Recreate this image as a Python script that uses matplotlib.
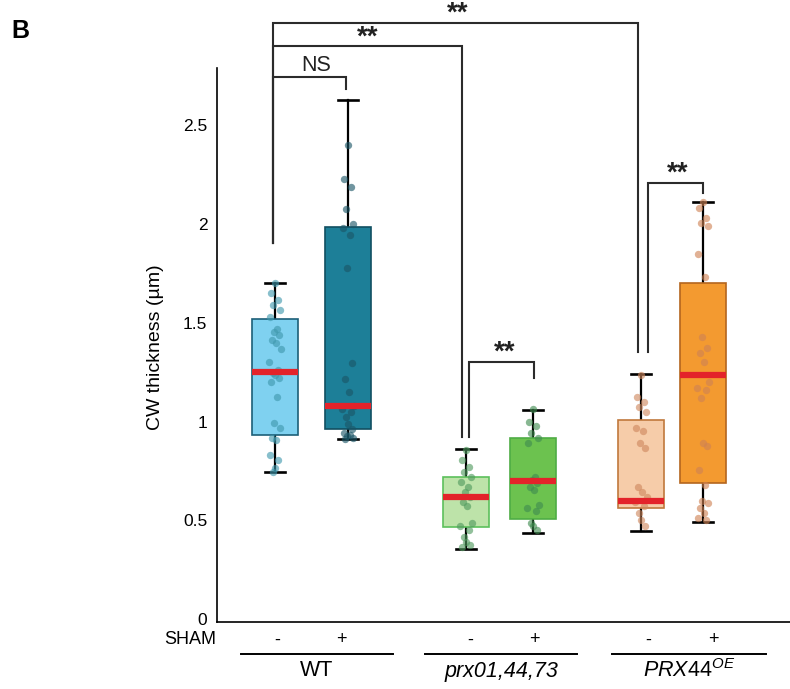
import numpy as np
import matplotlib
matplotlib.use("Agg")
import matplotlib.pyplot as plt

plt.rcParams["font.family"] = ["Liberation Sans", "DejaVu Sans"]
plt.rcParams["mathtext.fontset"] = "custom"
plt.rcParams["mathtext.rm"] = "Liberation Sans"
plt.rcParams["mathtext.it"] = "Liberation Sans:italic"

# ---- data (CW thickness, um) ----
groups = ["WT", "prx01,44,73", "PRX44"]
sham = ["-", "+", "-", "+", "-", "+"]
whislo = [0.745, 0.91, 0.355, 0.435, 0.445, 0.49]
q1 = [0.93, 0.96, 0.466, 0.505, 0.56, 0.69]
med = [1.25, 1.08, 0.62, 0.70, 0.60, 1.235]
q3 = [1.52, 1.985, 0.72, 0.915, 1.01, 1.70]
whishi = [1.70, 2.63, 0.86, 1.06, 1.24, 2.11]

pts_wt_m = [1.70, 1.65, 1.615, 1.59, 1.565, 1.53, 1.47, 1.455, 1.44, 1.415, 1.40,
            1.365, 1.30, 1.26, 1.245, 1.235, 1.22, 1.20, 1.125, 0.995, 0.965,
            0.915, 0.905, 0.83, 0.805, 0.765, 0.745]
pts_wt_p = [2.40, 2.23, 2.19, 2.075, 2.00, 1.98, 1.945, 1.775, 1.295, 1.215, 1.15,
            1.08, 1.065, 1.05, 1.025, 0.99, 0.96, 0.94, 0.93, 0.925, 0.915, 0.91]
pts_prx_m = [0.856, 0.805, 0.77, 0.745, 0.72, 0.695, 0.67, 0.645, 0.62, 0.595,
             0.57, 0.485, 0.47, 0.45, 0.415, 0.39, 0.375, 0.365]
pts_prx_p = [1.065, 1.00, 0.975, 0.94, 0.915, 0.89, 0.72, 0.705, 0.687, 0.67,
             0.655, 0.577, 0.56, 0.545, 0.485, 0.47, 0.45]
pts_oe_m = [1.236, 1.126, 1.10, 1.075, 1.05, 0.966, 0.95, 0.89, 0.865, 0.67,
            0.645, 0.62, 0.595, 0.57, 0.535, 0.50, 0.47]
pts_oe_p = [2.11, 2.08, 2.03, 2.005, 1.99, 1.85, 1.73, 1.43, 1.37, 1.345, 1.30,
            1.20, 1.17, 1.16, 1.12, 0.89, 0.875, 0.755, 0.68, 0.60, 0.585, 0.56,
            0.535, 0.51, 0.50]
points = [pts_wt_m, pts_wt_p, pts_prx_m, pts_prx_p, pts_oe_m, pts_oe_p]

# ---- style / layout ----
pos = [275, 348, 466, 533, 641, 703]
face = ["#7fd1f0", "#1d7f98", "#bde3a9", "#6cc24f", "#f6cca9", "#f39a30"]
edge = ["#1c5f78", "#114f61", "#5cc05c", "#4fad45", "#c0783c", "#b4661f"]
dotc = ["#3f98ad", "#1a5566", "#4f9a5e", "#3f8c4f", "#cf885e", "#cf8254"]
jit = [0, -4, 3, -2, 5, -5, 2, -1, 4, -3, 1, 6, -6, 3, -2, 0, 4, -4, 2, -1, 5, -3, 1, -5, 3, 0, -2]

W, H = 790, 689
PX = 1 / 197.4  # data units per pixel (vertical)
fig = plt.figure(figsize=(W / 100, H / 100), dpi=100)
ax = fig.add_axes([217 / W, (H - 622) / H, 1 - 217 / W, (622 - 68) / H])
ax.set_xlim(217, 790)
ax.set_ylim(-0.015, 2.79)

stats = [dict(whislo=whislo[i], q1=q1[i], med=med[i], q3=q3[i], whishi=whishi[i])
         for i in range(6)]
bp = ax.bxp(stats, positions=pos, widths=46, patch_artist=True, showfliers=False,
            capwidths=20, manage_ticks=False,
            medianprops=dict(color="#e3232a", lw=4.5, solid_capstyle="butt"),
            whiskerprops=dict(color="black", lw=1.6),
            capprops=dict(color="black", lw=1.9))
for i, b in enumerate(bp["boxes"]):
    b.set_facecolor(face[i])
    b.set_edgecolor(edge[i])
    b.set_linewidth(1.2)
    b.set_zorder(2)
for m in bp["medians"]:
    m.set_zorder(4)
for w in bp["whiskers"] + bp["caps"]:
    w.set_zorder(1)

for i, p in enumerate(points):
    xs = [pos[i] + jit[k % len(jit)] for k in range(len(p))]
    ax.scatter(xs, p, s=28, color=dotc[i], alpha=0.62, lw=0, zorder=3)

for s in ["top", "right"]:
    ax.spines[s].set_visible(False)
ax.spines["left"].set_linewidth(1.2)
ax.spines["bottom"].set_linewidth(1.2)
ax.set_xticks([])
ax.set_yticks([0, 0.5, 1, 1.5, 2, 2.5])
ax.set_yticklabels(["0", "0.5", "1", "1.5", "2", "2.5"])
ax.tick_params(axis="y", length=0, pad=7, labelsize=12.5)

# ---- significance brackets ----
bc = "#2b2b2b"
def bracket(x1, x2, ytop, y1, y2, label, dx=0, fs=20, off=2, fw="bold"):
    ax.plot([x1, x1, x2, x2], [y1, ytop, ytop, y2], color=bc, lw=1.5,
            clip_on=False, zorder=5, solid_joinstyle="miter")
    ax.text((x1 + x2) / 2 + dx, ytop + off * PX, label, ha="center",
            va="baseline", fontsize=fs, clip_on=False, color="#222222",
            fontweight=fw)

bracket(273, 638, 3.02, 1.905, 1.35, "**", dx=2)
bracket(273, 462, 2.90, 1.905, 0.92, "**")
bracket(273, 346, 2.745, 1.905, 2.685, "NS", dx=7, fs=15.5, off=6, fw="normal")
bracket(469, 534, 1.302, 0.922, 1.221, "**", dx=3)
bracket(648, 703, 2.21, 1.353, 2.155, "**", dx=2)

# ---- x annotations ----
def ft(x, y, s, **kw):
    kw.setdefault("ha", "center")
    fig.text(x / W, 1 - y / H, s, va="center", **kw)

ft(216, 640, "SHAM", fontsize=13, ha="right")
for x, s in zip([277, 341, 470, 534, 648, 713], sham):
    ft(x, 640, s, fontsize=13)
lines = [(241, 393), (425, 577), (612, 766)]
for x1, x2 in lines:
    fig.add_artist(plt.Line2D([x1 / W, x2 / W], [1 - 654 / H] * 2, color="black", lw=1.4))
ft(317, 671, "WT", fontsize=15.5)
ft(501, 671, "prx01,44,73", fontsize=15.5, style="italic")
ft(689, 671, "$\\mathit{PRX44}^{\\mathit{OE}}$", fontsize=15.5)

fig.text(155 / W, 1 - 347 / H, "CW thickness (\u00b5m)", rotation=90,
         ha="center", va="center", fontsize=14)
fig.text(11 / W, 1 - 31 / H, "B", fontsize=18, fontweight="bold",
         ha="left", va="center")

fig.savefig("out.png", dpi=100)
